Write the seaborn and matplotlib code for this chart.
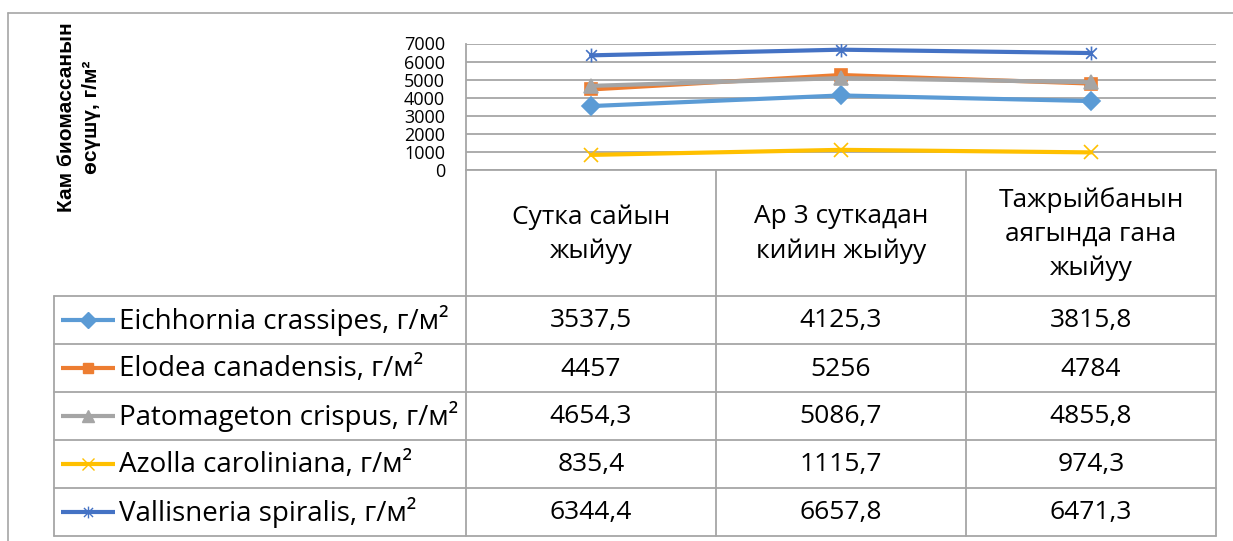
import numpy as np
import pandas as pd
import matplotlib
matplotlib.use("Agg")
import matplotlib.pyplot as plt
from matplotlib.path import Path
import seaborn as sns

# data
categories = ["Сутка сайын\nжыйуу", "Ар 3 суткадан\nкийин жыйуу", "Тажрыйбанын\nаягында гана\nжыйуу"]
series_names = ["Eichhornia crassipes, г/м²", "Elodea canadensis, г/м²", "Patomageton crispus, г/м²",
                "Azolla caroliniana, г/м²", "Vallisneria spiralis, г/м²"]
eichhornia = [3537.5, 4125.3, 3815.8]
elodea = [4457, 5256, 4784]
patomageton = [4654.3, 5086.7, 4855.8]
azolla = [835.4, 1115.7, 974.3]
vallisneria = [6344.4, 6657.8, 6471.3]
y_ticks = [0, 1000, 2000, 3000, 4000, 5000, 6000, 7000]
y_title = "Кам биомассанын\nөсүшү, г/м²"

values = [eichhornia, elodea, patomageton, azolla, vallisneria]
colors = ["#5B9BD5", "#ED7D31", "#A5A5A5", "#FFC000", "#4472C4"]

# excel-like "star" marker: x with a vertical bar
star = Path([(-1, -1), (1, 1), (-1, 1), (1, -1), (0, -1.3), (0, 1.3)],
            [Path.MOVETO, Path.LINETO, Path.MOVETO, Path.LINETO, Path.MOVETO, Path.LINETO])
markers = ["D", "s", "^", "x", star]
msizes = [9, 9, 10, 10, 10]

sns.set_theme(style="white")
plt.rcParams["font.family"] = ["Open Sans", "DejaVu Sans"]

W, H = 1233, 541
fig = plt.figure(figsize=(W / 100, H / 100), dpi=100)

def fx(px):
    return px / W

def fy(py):
    return 1 - py / H

# plot area (pixels): x 466..1216, y 43..170
left, right, top, bottom = 466, 1216, 43.5, 170
ax = fig.add_axes([fx(left), fy(bottom), fx(right - left), (bottom - top) / H])

df = pd.DataFrame({"cat": np.tile(categories, len(series_names)),
                   "series": np.repeat(series_names, len(categories)),
                   "value": np.concatenate(values)})

for i, name in enumerate(series_names):
    sub = df[df["series"] == name]
    sns.lineplot(data=sub, x="cat", y="value", color=colors[i], linewidth=3,
                 marker=markers[i], markersize=msizes[i], markeredgecolor=colors[i],
                 markeredgewidth=1.2, ax=ax, sort=False, zorder=3 + i)

ax.set_xlim(-0.5, 2.5)
ax.set_ylim(0, 7000)
ax.set_yticks(y_ticks)
ax.set_yticklabels([str(t) for t in y_ticks], fontsize=13, color="#000000")
ax.tick_params(axis="y", length=0, pad=15)
ax.set_xticks([])
ax.set_xlabel("")
ax.set_ylabel("")
ax.grid(axis="y", color="#A6A6A6", linewidth=1.3)
for s in ["top", "right", "bottom"]:
    ax.spines[s].set_visible(False)
ax.spines["left"].set_color("#A6A6A6")
ax.spines["left"].set_linewidth(1.3)
ax.set_facecolor("none")

# overlay in pixel coordinates for the data table and frame
ov = fig.add_axes([0, 0, 1, 1])
ov.set_xlim(0, W)
ov.set_ylim(H, 0)
ov.axis("off")
ov.set_zorder(-1)

gray = "#A6A6A6"
lw = 1.3
# outer chart frame
ov.plot([8, W], [13, 13], color=gray, lw=1.2)
ov.plot([8, 8], [13, H], color=gray, lw=1.2)

col_edges = [466, 716, 966, 1216]
row_edges = [296, 344, 392, 440, 488, 536]
leg_left = 54

ov.plot([col_edges[0], col_edges[-1]], [bottom, bottom], color=gray, lw=lw)
for y in row_edges:
    ov.plot([leg_left, col_edges[-1]], [y, y], color=gray, lw=lw)
for x in col_edges:
    ov.plot([x, x], [bottom, row_edges[-1]], color=gray, lw=lw)
ov.plot([leg_left, leg_left], [row_edges[0], row_edges[-1]], color=gray, lw=lw)

centers = [(col_edges[j] + col_edges[j + 1]) / 2 for j in range(3)]

# header cells
for j, cat in enumerate(categories):
    ov.text(centers[j], (bottom + row_edges[0]) / 2 + 1, cat, ha="center", va="center",
            fontsize=19, linespacing=1.45, color="#000000")

# data rows
for i, name in enumerate(series_names):
    yc = (row_edges[i] + row_edges[i + 1]) / 2
    ov.plot([61, 115], [yc, yc], color=colors[i], lw=3, solid_capstyle="butt")
    ov.plot([88], [yc], marker=markers[i], color=colors[i], markersize=msizes[i] * 0.85,
            markeredgecolor=colors[i], markeredgewidth=1.0, lw=0)
    ov.text(119, yc + 1, name, ha="left", va="center", fontsize=20, color="#000000")
    for j in range(3):
        txt = f"{values[i][j]:g}".replace(".", ",")
        ov.text(centers[j], yc + 1, txt, ha="center", va="center", fontsize=19, color="#000000")

# y-axis title
ov.text(79, 117, y_title, rotation=90, ha="center", va="center", fontsize=15,
        fontweight="bold", linespacing=1.35, family=["Liberation Sans", "DejaVu Sans"],
        color="#000000")

fig.savefig("out.png", dpi=100)
